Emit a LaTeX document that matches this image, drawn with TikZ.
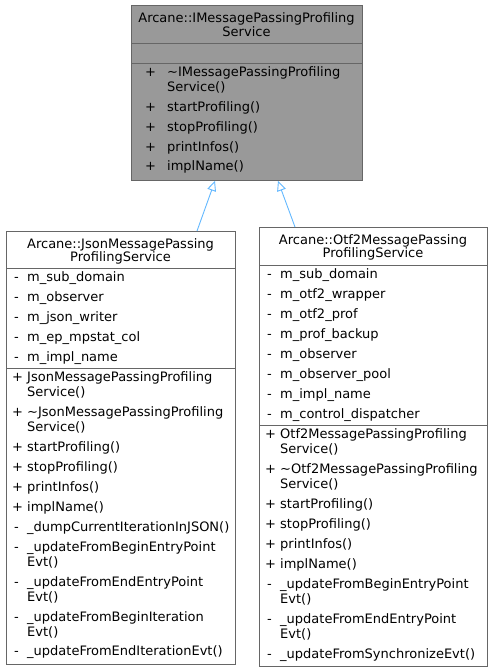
\documentclass[tikz,border=0pt]{standalone}
\usepackage{fontspec}
\setmainfont{DejaVu Sans}
\usetikzlibrary{arrows.meta}
\definecolor{edgeblue}{HTML}{63B8FF}
\definecolor{boxline}{HTML}{666666}
\definecolor{basefill}{HTML}{999999}
\tikzset{
  umlbox/.style={draw=boxline, line width=0.9pt, rectangle, inner sep=0pt, anchor=north west},
  sepline/.style={draw=boxline, line width=0.9pt},
  txt/.style={inner sep=0pt, anchor=base west, font=\fontsize{13}{15}\selectfont},
  ttl/.style={inner sep=0pt, anchor=base, font=\fontsize{13}{15}\selectfont},
  inherit/.style={draw=edgeblue, line width=0.9pt, -{Triangle[open, length=10pt, width=9pt, fill=white]}}
}
\newcommand{\mline}[3]{\node[txt] at (#1,#2+4.8) {#3};}
\newcommand{\tline}[3]{\node[ttl] at (#1,#2+4.8) {#3};}
\begin{document}
\begin{tikzpicture}[x=1pt,y=-1pt]
\useasboundingbox (0,0) rectangle (493,672);
% ---- base class
\node[umlbox, fill=basefill, minimum width=231pt, minimum height=175pt] (base) at (131,5) {};
\draw[sepline] (131,43) -- (362,43);
\draw[sepline] (131,63) -- (362,63);
\tline{246.5}{18}{Arcane::IMessagePassingProfiling}
\tline{246.5}{32}{Service}
\foreach \y/\t in {72/{\textasciitilde IMessagePassingProfiling}, 107/{startProfiling()}, 127/{stopProfiling()}, 147/{printInfos()}, 166/{implName()}}{
  \mline{145}{\y}{+}
  \mline{167}{\y}{\t}
}
\mline{167}{87}{Service()}
% ---- Json class
\node[umlbox, fill=white, minimum width=229pt, minimum height=433pt] (json) at (6,231) {};
\draw[sepline] (6,268) -- (235,268);
\draw[sepline] (6,368) -- (235,368);
\tline{120.5}{244}{Arcane::JsonMessagePassing}
\tline{120.5}{257}{ProfilingService}
\foreach \y/\t in {277/m\_sub\_domain, 297/m\_observer, 317/m\_json\_writer, 337/m\_ep\_mpstat\_col, 357/m\_impl\_name}{
  \mline{14}{\y}{-}
  \mline{27}{\y}{\t}
}
\foreach \y/\t in {377/{JsonMessagePassingProfiling}, 412/{\textasciitilde JsonMessagePassingProfiling}, 447/{startProfiling()}, 467/{stopProfiling()}, 487/{printInfos()}, 507/{implName()}}{
  \mline{12}{\y}{+}
  \mline{27}{\y}{\t}
}
\mline{27}{392}{Service()}
\mline{27}{427}{Service()}
\foreach \y/\t in {527/\_dumpCurrentIterationInJSON(), 547/\_updateFromBeginEntryPoint, 582/\_updateFromEndEntryPoint, 617/\_updateFromBeginIteration, 651/\_updateFromEndIterationEvt()}{
  \mline{14}{\y}{-}
  \mline{27}{\y}{\t}
}
\mline{27}{562}{Evt()}
\mline{27}{597}{Evt()}
\mline{27}{632}{Evt()}
% ---- Otf2 class
\node[umlbox, fill=white, minimum width=228pt, minimum height=439pt] (otf) at (259,227) {};
\draw[sepline] (259,265.5) -- (487,265.5);
\draw[sepline] (259,425) -- (487,425);
\tline{373}{240}{Arcane::Otf2MessagePassing}
\tline{373}{253}{ProfilingService}
\foreach \y/\t in {274/m\_sub\_domain, 294/m\_otf2\_wrapper, 314/m\_otf2\_prof, 334/m\_prof\_backup, 354/m\_observer, 374/m\_observer\_pool, 394/m\_impl\_name, 414/m\_control\_dispatcher}{
  \mline{267}{\y}{-}
  \mline{280}{\y}{\t}
}
\foreach \y/\t in {434/{Otf2MessagePassingProfiling}, 469/{\textasciitilde Otf2MessagePassingProfiling}, 504/{startProfiling()}, 524/{stopProfiling()}, 544/{printInfos()}, 564/{implName()}}{
  \mline{265}{\y}{+}
  \mline{280}{\y}{\t}
}
\mline{280}{449}{Service()}
\mline{280}{484}{Service()}
\foreach \y/\t in {584/\_updateFromBeginEntryPoint, 619/\_updateFromEndEntryPoint, 654/\_updateFromSynchronizeEvt()}{
  \mline{267}{\y}{-}
  \mline{280}{\y}{\t}
}
\mline{280}{599}{Evt()}
\mline{280}{634}{Evt()}
% ---- inheritance connectors
\path (json.north west) ++(191,0) coordinate (jtop);
\path (otf.north west) ++(36,0) coordinate (otop);
\path (base.south west) ++(84,0) coordinate (btipL);
\path (base.south west) ++(147,0) coordinate (btipR);
\draw[inherit] (jtop) -- (btipL);
\draw[inherit] (otop) -- (btipR);
\end{tikzpicture}
\end{document}
